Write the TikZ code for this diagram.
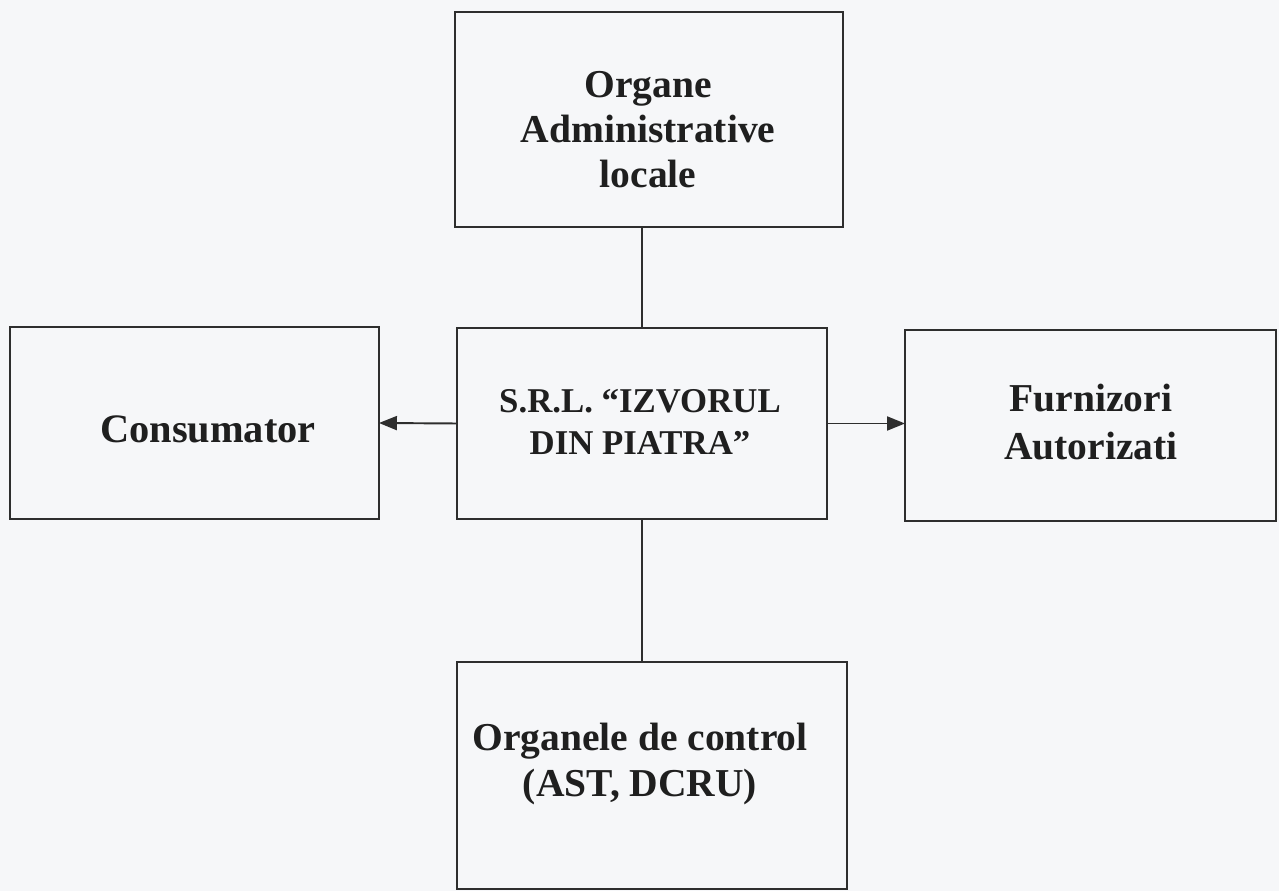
\documentclass[tikz,border=0pt]{standalone}
\usepackage{fontspec}
\setmainfont{Liberation Serif}
\usetikzlibrary{arrows.meta,positioning,calc}
\definecolor{paper}{HTML}{F6F7F9}
\definecolor{ink}{HTML}{1F1F1F}
\definecolor{rule}{HTML}{2E2E2E}
\tikzset{
  frame/.style={draw=rule, line width=1.1pt, inner sep=0pt, outer sep=0pt},
  boxtext/.style={align=center, text=ink, inner sep=0pt},
  link/.style={draw=rule, line width=1.1pt},
  arr/.style={link, -{Triangle[length=3.6mm,width=2.8mm]}}
}
\begin{document}
\begin{tikzpicture}[x=0.02cm, y=-0.02cm]
% page
\fill[paper] (0,0) rectangle (1279,891);
\useasboundingbox (0,0) rectangle (1279,891);
% frames
\node[frame, minimum width=7.76cm, minimum height=4.30cm] (top)  at (649,119.5) {};
\node[frame, minimum width=7.40cm, minimum height=3.82cm] (firm) at (642,423.5) {};
\node[frame, minimum width=7.38cm, minimum height=3.84cm] (cons) at (194.5,423) {};
\node[frame, minimum width=7.42cm, minimum height=3.82cm] (furn) at (1090.5,425.5) {};
\node[frame, minimum width=7.80cm, minimum height=4.54cm] (ctrl) at (652,775.5) {};
% texts
\node[boxtext, font=\bfseries\fontsize{22.5}{25.6}\selectfont] (top-t) at (648,130) {Organe\\Administrative\\locale};
\node[boxtext, font=\bfseries\fontsize{19.8}{23.8}\selectfont] (firm-t) at (640,422) {S.R.L. “IZVORUL\\DIN PIATRA”};
\node[boxtext, font=\bfseries\fontsize{23}{27}\selectfont] (cons-t) at (208,429) {Consumator};
\node[boxtext, font=\bfseries\fontsize{22.5}{27}\selectfont] (furn-t) at (1091,422) {Furnizori\\Autorizati};
\node[boxtext, font=\bfseries\fontsize{22.5}{26.5}\selectfont] (ctrl-t) at (640,764) {Organele de control\\(AST, DCRU)};
% connectors
\draw[link] (firm.north) -- (firm.north |- top.south);
\draw[link] (firm.south) -- (firm.south |- ctrl.north);
\draw[arr] (firm.west) -- (cons.east);
\draw[arr] (firm.east) -- (firm.east -| furn.west);
\end{tikzpicture}
\end{document}
